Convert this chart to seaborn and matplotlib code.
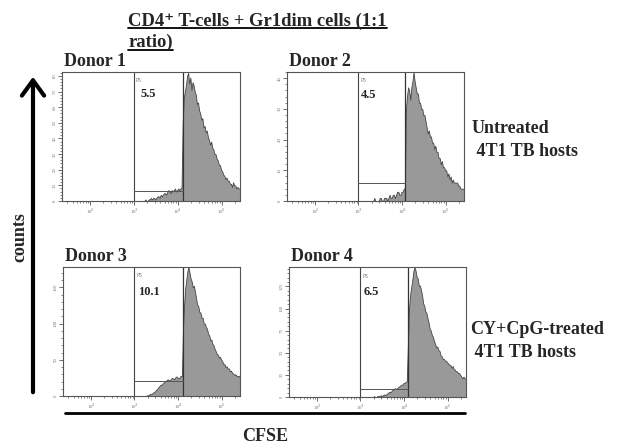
import numpy as np
import pandas as pd
import matplotlib
matplotlib.use('Agg')
import matplotlib.pyplot as plt
import seaborn as sns
from matplotlib.lines import Line2D
from matplotlib.patches import FancyArrowPatch
from matplotlib.ticker import AutoMinorLocator
from matplotlib.transforms import blended_transform_factory

# CFSE histogram bins (log10 units)
bin_start = 3.2
bin_width = 0.025

donors = ['Donor 1', 'Donor 2', 'Donor 3', 'Donor 4']
p5_values = ['5.5', '4.5', '10.1', '6.5']
gate_low = 3.0
gate_high = [4.11, 4.07, 4.11, 4.09]
gate_floor = [6.4, 5.9, 20.7, 9.0]
y_max = [82.5, 42, 178, 147]
y_step = [10, 10, 50, 25]

counts_1 = [0, 0, 1, 0, 0, 1, 1, 2, 1, 2, 2, 1, 2, 3, 3, 2, 4, 3, 4, 5,
            5, 4, 6, 7, 6, 5, 7, 6, 7, 8, 6, 7, 8, 7, 8, 9,
            50, 66, 70, 74, 80, 82, 75, 79, 71, 76, 74, 70, 68, 62, 63, 58,
            56, 52, 53, 47, 48, 44, 45, 41, 39, 36, 38, 34, 33, 30, 30, 27,
            26, 23, 23, 20, 19, 17, 16, 14, 15, 13, 13, 11, 11, 9, 12, 10,
            10, 8, 9, 8, 8, 7]
counts_2 = [0, 0, 0, 0, 0, 0, 1, 0, 0, 0, 0, 1, 1, 0, 0, 1, 1, 1, 0, 1,
            2, 1, 1, 2, 2, 1, 2, 3, 3, 2, 2, 3, 3, 4, 4, 30,
            34, 37, 36, 33, 37, 39, 42, 39, 37, 35, 35, 32, 32, 30, 30, 28,
            28, 26, 24, 22, 23, 21, 21, 19, 19, 17, 18, 16, 16, 14, 14, 12,
            13, 11, 11, 10, 10, 8, 9, 7, 8, 6, 7, 6, 6, 6, 6, 5, 5, 4, 4, 4,
            4, 3]
counts_3 = [0, 0, 0, 1, 1, 2, 3, 3, 4, 5, 6, 8, 9, 11, 13, 15, 15, 17,
            18, 20, 20, 22, 23, 22, 21, 24, 25, 24, 23, 26, 27, 25, 24, 26,
            28, 27, 95, 125, 148, 160, 172, 178, 170, 162, 158, 150, 152, 144,
            135, 126, 124, 116, 115, 108, 108, 100, 100, 95, 93, 86, 84, 77,
            78, 72, 70, 65, 62, 58, 57, 53, 54, 50, 48, 44, 44, 40, 41, 38,
            38, 34, 35, 32, 31, 29, 30, 28, 27, 28, 26, 24]
counts_4 = [0, 0, 0, 0, 1, 0, 0, 1, 1, 1, 2, 1, 2, 3, 2, 3, 4, 5, 6, 5,
            7, 8, 9, 10, 9, 10, 11, 12, 13, 14, 14, 16, 16, 17, 18, 60,
            100, 115, 124, 132, 142, 147, 143, 136, 134, 126, 126, 121, 115,
            106, 103, 97, 95, 89, 84, 77, 75, 70, 68, 63, 60, 56, 57, 53, 52,
            47, 46, 43, 43, 41, 41, 39, 38, 36, 36, 33, 35, 32, 31, 29, 29,
            27, 27, 25, 23, 21, 23, 21, 21, 19]
all_counts = [counts_1, counts_2, counts_3, counts_4]

x_ticks = [2, 3, 4, 5]
x_tick_labels = ['10$^2$', '10$^3$', '10$^4$', '10$^5$']

sns.set_style('ticks')
plt.rcParams['font.family'] = ['Liberation Serif', 'DejaVu Serif']

fig = plt.figure(figsize=(6.19, 4.44), dpi=100)

W, H = 619, 444
boxes = [(62, 72, 178, 129), (287, 72, 177, 129),
         (63, 267, 177, 129), (289, 267, 177, 130)]
num_x = [3.14, 3.06, 3.09, 3.07]
num_y = [0.806, 0.80, 0.78, 0.785]

minor_x = [np.log10(k * 10 ** n) for n in range(1, 6) for k in range(2, 10)]

for i, (l, t, w, h) in enumerate(boxes):
    ax = fig.add_axes([l / W, 1 - (t + h) / H, w / W, h / H])
    n_bins = len(all_counts[i])
    centers = bin_start + bin_width * (np.arange(n_bins) + 0.5)
    df = pd.DataFrame({'cfse': centers, 'count': all_counts[i]})
    sns.histplot(data=df, x='cfse', weights='count', binwidth=bin_width,
                 binrange=(bin_start, bin_start + bin_width * n_bins),
                 element='poly', fill=True, color='#999999',
                 edgecolor='#444444', linewidth=0.6, alpha=1, ax=ax)
    ax.set_xlim(1.36, 5.42)
    ax.set_ylim(0, y_max[i])
    ax.set_xlabel('')
    ax.set_ylabel('')
    # gates
    ax.axvline(gate_low, color='#444444', lw=0.8)
    ax.axvline(gate_high[i], color='#333333', lw=0.9)
    ax.plot([gate_low, gate_high[i]], [gate_floor[i], gate_floor[i]],
            color='#555555', lw=0.7)
    tr = blended_transform_factory(ax.transData, ax.transAxes)
    ax.text(gate_low + 0.04, 0.95, 'P5', transform=tr, fontsize=3.5,
            color='#777777', va='top', family=['DejaVu Sans'])
    ax.text(num_x[i], num_y[i], p5_values[i], transform=tr, fontsize=9,
            fontweight='bold', va='baseline')
    ax.text(0.01, 1.047, donors[i], transform=ax.transAxes, fontsize=13,
            fontweight='bold', va='baseline')
    # ticks
    ax.set_xticks(x_ticks)
    ax.set_xticklabels(x_tick_labels)
    ax.set_xticks([m for m in minor_x if 1.36 <= m <= 5.42], minor=True)
    ax.set_yticks(np.arange(0, y_max[i] + 0.1, y_step[i]))
    ax.yaxis.set_minor_locator(AutoMinorLocator(5))
    ax.tick_params(which='major', length=3, width=0.6, color='#555555',
                   labelsize=3.5, labelcolor='#777777', pad=1)
    ax.tick_params(which='minor', length=1.6, width=0.5, color='#555555')
    ax.tick_params(axis='y', labelrotation=90)
    for lbl in ax.get_yticklabels():
        lbl.set_va('center')
    for s in ax.spines.values():
        s.set_color('#555555')
        s.set_linewidth(0.8)

# title (underlined)
t1 = fig.text(128 / W, 1 - 26 / H, 'CD4\u207a T-cells + Gr1dim cells (1:1',
              fontsize=13.4, fontweight='bold', va='baseline')
t2 = fig.text(128 / W, 1 - 47 / H, 'ratio)', fontsize=13.4,
              fontweight='bold', va='baseline')

# row labels
fig.text(472 / W, 1 - 133 / H, 'Untreated', fontsize=13, fontweight='bold',
         va='baseline')
fig.text(472 / W, 1 - 156 / H, ' 4T1 TB hosts', fontsize=13,
         fontweight='bold', va='baseline')
fig.text(470 / W, 1 - 334 / H, 'CY+CpG-treated', fontsize=13,
         fontweight='bold', va='baseline')
fig.text(470 / W, 1 - 357 / H, ' 4T1 TB hosts', fontsize=13,
         fontweight='bold', va='baseline')

# axis annotations
fig.text(20 / W, 1 - 237 / H, 'counts', fontsize=13, fontweight='bold',
         rotation=90, ha='center', va='center')
fig.text(265 / W, 1 - 436 / H, 'CFSE', fontsize=13, fontweight='bold',
         ha='center', va='center')
fig.add_artist(FancyArrowPatch((33 / W, 1 - 395 / H), (33 / W, 1 - 74 / H),
                               transform=fig.transFigure,
                               arrowstyle='->,head_length=0.55,head_width=0.4',
                               mutation_scale=20, lw=3, color='black'))
fig.add_artist(Line2D([65 / W, 465 / W], [1 - 413 / H, 1 - 413 / H],
                      transform=fig.transFigure, color='black', lw=2))

fig.canvas.draw()
r = fig.canvas.get_renderer()
for t, yb in [(t1, 28.5), (t2, 50)]:
    bb = t.get_window_extent(r).transformed(fig.transFigure.inverted())
    fig.add_artist(Line2D([bb.x0, bb.x1], [1 - yb / H, 1 - yb / H],
                          transform=fig.transFigure, color='black', lw=1.3))

fig.savefig('out.png', dpi=100)
